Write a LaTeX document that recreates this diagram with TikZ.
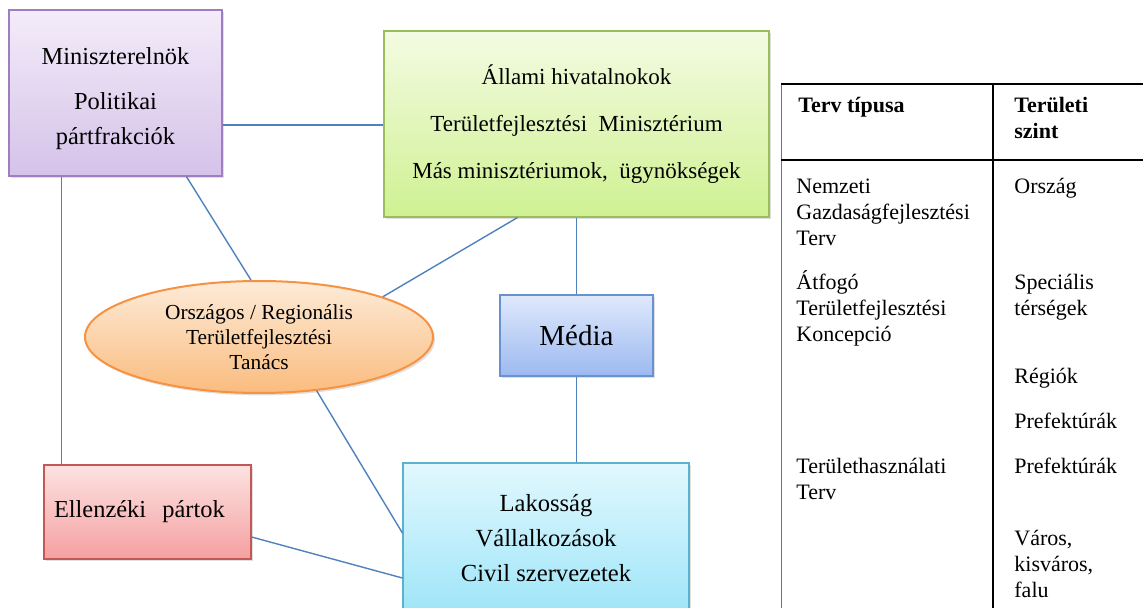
\documentclass[tikz,border=0pt]{standalone}
\usepackage{fontspec}
\setmainfont{Liberation Serif}
\usetikzlibrary{calc,shapes.geometric,shadows}

\definecolor{linkblue}{RGB}{79,129,189}
\definecolor{pmtop}{RGB}{243,236,249}
\definecolor{pmbot}{RGB}{213,194,233}
\definecolor{pmline}{RGB}{158,126,192}
\definecolor{govtop}{RGB}{244,251,226}
\definecolor{govbot}{RGB}{207,241,146}
\definecolor{govline}{RGB}{155,190,90}
\definecolor{counciltop}{RGB}{253,235,216}
\definecolor{councilbot}{RGB}{250,188,126}
\definecolor{councilline}{RGB}{246,146,64}
\definecolor{mediatop}{RGB}{223,233,252}
\definecolor{mediabot}{RGB}{156,185,240}
\definecolor{medialine}{RGB}{104,145,208}
\definecolor{laktop}{RGB}{226,248,254}
\definecolor{lakbot}{RGB}{158,229,248}
\definecolor{lakline}{RGB}{90,178,205}
\definecolor{opptop}{RGB}{253,226,226}
\definecolor{oppbot}{RGB}{245,160,160}
\definecolor{oppline}{RGB}{196,88,86}

\begin{document}
\begin{tikzpicture}[x=0.5pt,y=-0.5pt,
  box/.style={draw,line width=0.6pt,align=center,inner sep=0pt,
    drop shadow={shadow xshift=1pt,shadow yshift=-1.2pt,opacity=0.25}},
  link/.style={draw=linkblue,line width=0.7pt},
  cell/.style={anchor=base west,align=left,inner sep=0pt,font=\fontsize{11}{13}\selectfont},
  headcell/.style={cell,font=\bfseries\fontsize{11}{13}\selectfont}]
\useasboundingbox (0,0) rectangle (1143,608);
\clip (0,0) rectangle (1143,608);

% actors
\node[box,top color=pmtop,bottom color=pmbot,draw=pmline,minimum width=106.5pt,minimum height=83pt,
  font=\fontsize{12.2}{17.5}\selectfont] (pm) at (115.5,93) {\rule{0pt}{14pt}Miniszterelnök\\[5pt]Politikai\\pártfrakciók};
\node[box,top color=govtop,bottom color=govbot,draw=govline,minimum width=192.5pt,minimum height=93pt,
  font=\fontsize{11.5}{23.5}\selectfont] (gov) at (576.5,124)
  {Állami hivatalnokok\\Területfejlesztési\ \ Minisztérium\\Más minisztériumok,\ \ ügynökségek};
\node[box,ellipse,top color=counciltop,bottom color=councilbot,draw=councilline,line width=1pt,
  minimum width=174pt,minimum height=56pt,font=\fontsize{10.7}{12.5}\selectfont] (council) at (259,337)
  {Országos / Regionális\\Területfejlesztési\\Tanács};
\node[box,top color=mediatop,bottom color=mediabot,draw=medialine,minimum width=76.5pt,minimum height=40.5pt,
  font=\fontsize{14.5}{17}\selectfont] (media) at (576.5,335.5) {Média};
\node[box,top color=laktop,bottom color=lakbot,draw=lakline,minimum width=143pt,minimum height=75pt,
  font=\fontsize{12.3}{17.5}\selectfont] (lak) at (546,538) {Lakosság\\Vállalkozások\\Civil szervezetek};
\node[box,top color=opptop,bottom color=oppbot,draw=oppline,align=left,text width=93.5pt,inner xsep=5pt,
  minimum height=47pt,font=\fontsize{12.2}{15}\selectfont] (opp) at (147.5,512) {Ellenzéki\ \ pártok};

% connections
\coordinate (pmA) at ($(pm.south west)+(53,0)$);
\coordinate (pmB) at ($(pm.south west)+(178,0)$);
\coordinate (govA) at ($(gov.south west)+(134,0)$);
\draw[link] ($(pm.east)+(0,32)$) -- ($(gov.west)+(0,1)$);
\draw[link] (pmA) -- (pmA |- opp.north);
\draw[link] (pmB) -- (council.98);
\draw[link] (govA) -- (council.18);
\draw[link] (gov.south) -- (media.north);
\draw[link] (media.south) -- (media.south |- lak.north);
\draw[link] (council.-43) -- ([yshift=2.5pt]lak.west);
\draw[link] ([yshift=-12.5pt]opp.east) -- ([yshift=-20pt]lak.west);

% table (multi-line cells are placed at the baseline of their last line)
\draw[black!55,line width=0.5pt] (781,84) -- (781,608);
\draw[line width=0.7pt] (781,84) -- (1143,84);
\draw[line width=1.2pt] (781,160) -- (1143,160);
\draw[line width=1.2pt] (993,84) -- (993,608);

\node[headcell] (hdtype) at (798,113) {Terv típusa};
\node[headcell] (hdlevel) at (1014,139) {Területi\\szint};
\node[cell] (nemzeti) at (796,246) {Nemzeti\\Gazdaságfejlesztési\\Terv};
\node[cell] (orszag) at (1014,194) {Ország};
\node[cell] (atfogo) at (796,342) {Átfogó\\Területfejlesztési\\Koncepció};
\node[cell] (specialis) at (1014,316) {Speciális\\térségek};
\node[cell] (regiok) at (1014,383) {Régiók};
\node[cell] (prefekt) at (1014,428) {Prefektúrák};
\node[cell] (hasznalat) at (796,499) {Területhasználati\\Terv};
\node[cell] (prefektb) at (1014,473) {Prefektúrák};
\node[cell] (varos) at (1014,597) {Város,\\kisváros,\\falu};
\end{tikzpicture}
\end{document}
